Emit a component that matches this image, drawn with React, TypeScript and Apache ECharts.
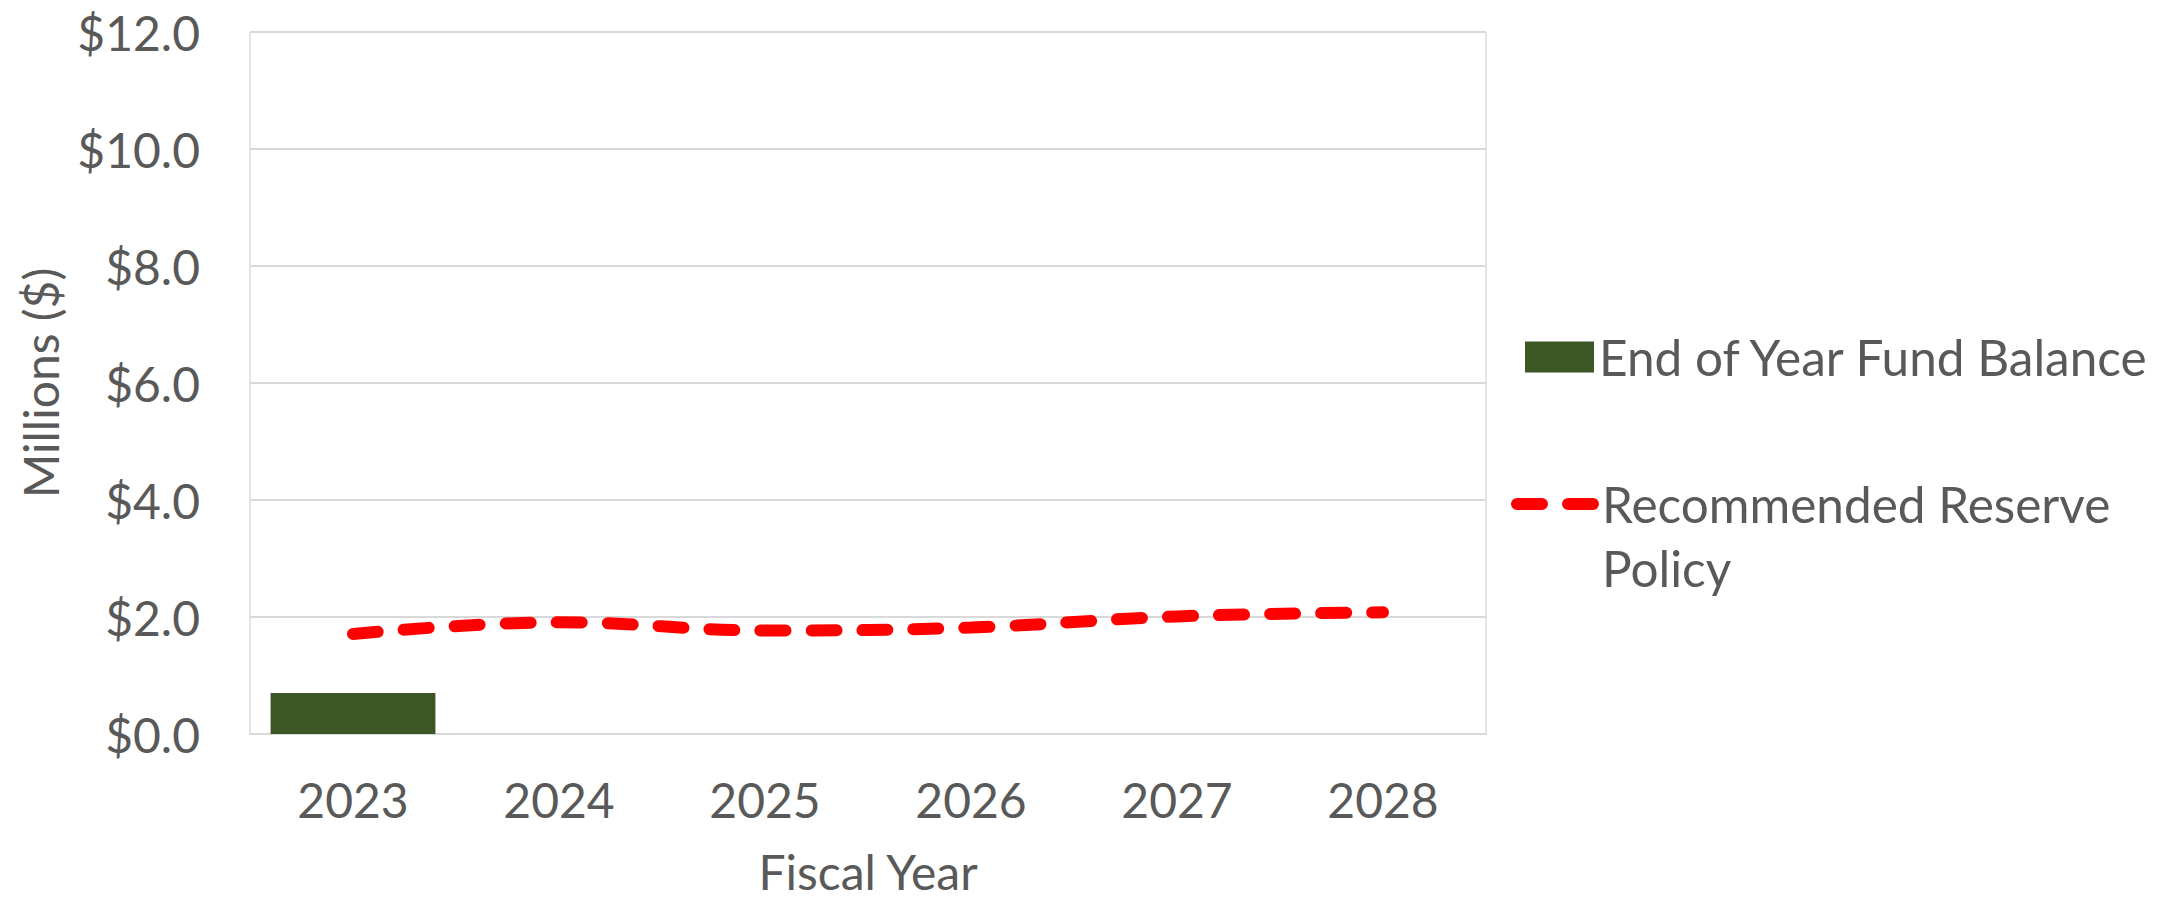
import React, { useEffect, useRef } from "react";
import * as echarts from "echarts";

const categories = ["2023", "2024", "2025", "2026", "2027", "2028"];
const fundBalance = [0.7, null, null, null, null, null];
const reservePolicy = [1.71, 1.91, 1.77, 1.82, 2.01, 2.08];
const yTicks = { min: 0, max: 12, interval: 2 };

const FONT = "Lato";
const TXT = "#595959";
const FS = 48;
const LFS = 49.5;

export default function App() {
  const ref = useRef<HTMLDivElement>(null);
  useEffect(() => {
    if (!ref.current) return;
    const chart = echarts.init(ref.current, undefined, { renderer: "svg" });
    chart.setOption({
      animation: false,
      backgroundColor: "#ffffff",
      textStyle: { fontFamily: FONT, color: TXT },
      grid: {
        left: 250,
        right: 692,
        top: 32,
        bottom: 163,
        show: true,
        borderColor: "#C8C8C8",
        borderWidth: 1,
      },
      legend: [
        {
          data: ["End of Year Fund Balance"],
          orient: "vertical",
          left: 1525,
          top: 325,
          padding: 0,
          icon: "rect",
          itemWidth: 69,
          itemHeight: 31,
          textStyle: { fontFamily: FONT, fontSize: LFS, color: TXT, lineHeight: 64 },
        },
        {
          data: ["Recommended Reserve Policy"],
          orient: "vertical",
          left: 1511,
          top: 408,
          padding: 0,
          itemWidth: 80,
          itemHeight: 14,
          formatter: () => "\nRecommended Reserve\nPolicy",
          lineStyle: { width: 12, type: [25, 26], cap: "round", color: "#FF0000" },
          itemStyle: { color: "rgba(0,0,0,0)", borderWidth: 0, opacity: 0 },
          textStyle: {
            fontFamily: FONT,
            fontSize: LFS,
            color: TXT,
            lineHeight: 64,
          },
        },
      ],
      xAxis: {
        type: "category",
        data: categories,
        name: "Fiscal Year",
        nameLocation: "middle",
        nameGap: 113,
        nameTextStyle: { fontFamily: FONT, fontSize: FS, color: TXT },
        axisTick: { show: false },
        axisLine: { show: true, lineStyle: { color: "#D9D9D9", width: 2 } },
        axisLabel: { fontFamily: FONT, fontSize: FS, color: TXT, margin: 41 },
      },
      yAxis: {
        type: "value",
        min: yTicks.min,
        max: yTicks.max,
        interval: yTicks.interval,
        name: "Millions ($)",
        nameLocation: "middle",
        nameGap: 186,
        nameTextStyle: { fontFamily: FONT, fontSize: FS, color: TXT },
        axisLine: { show: false },
        axisTick: { show: false },
        splitLine: { show: true, lineStyle: { color: "#D9D9D9", width: 2 } },
        axisLabel: {
          fontFamily: FONT,
          fontSize: FS,
          color: TXT,
          margin: 50,
          formatter: (v: number) => "$" + v.toFixed(1),
        },
      },
      series: [
        {
          name: "End of Year Fund Balance",
          type: "bar",
          data: fundBalance,
          barWidth: "80%",
          itemStyle: { color: "#3C5724" },
        },
        {
          name: "Recommended Reserve Policy",
          type: "line",
          data: reservePolicy,
          smooth: 0.4,
          symbol: "none",
          lineStyle: { width: 12, type: [25, 26], cap: "round", color: "#FF0000" },
          itemStyle: { color: "#FF0000" },
        },
      ],
    });
    return () => chart.dispose();
  }, []);
  return (
    <div
      ref={ref}
      style={{ position: "absolute", left: 0, top: 0, width: 2178, height: 900 }}
    />
  );
}
